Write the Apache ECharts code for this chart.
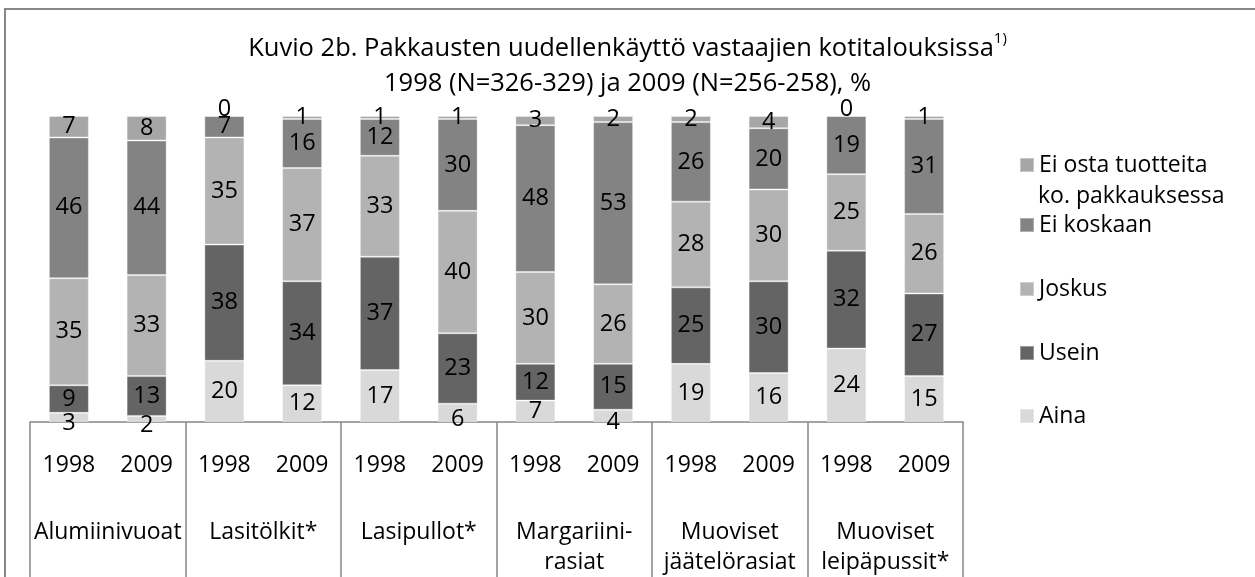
<!DOCTYPE html>
<html>
<head>
<meta charset="utf-8">
<script src="https://cdn.jsdelivr.net/npm/echarts@6/dist/echarts.min.js"></script>
<style>html,body{margin:0;padding:0;background:#fff;}#c{width:1255px;height:577px;}</style>
</head>
<body>
<div id="c"></div>
<script>
const categories = ['Alumiinivuoat', 'Lasitölkit*', 'Lasipullot*', 'Margariini-\nrasiat', 'Muoviset\njäätelörasiat', 'Muoviset\nleipäpussit*'];
const years = ['1998', '2009', '1998', '2009', '1998', '2009', '1998', '2009', '1998', '2009', '1998', '2009'];
const seriesNames = ['Aina', 'Usein', 'Joskus', 'Ei koskaan', 'Ei osta tuotteita ko. pakkauksessa'];
const aina      = [3, 2, 20, 12, 17, 6, 7, 4, 19, 16, 24, 15];
const usein     = [9, 13, 38, 34, 37, 23, 12, 15, 25, 30, 32, 27];
const joskus    = [35, 33, 35, 37, 33, 40, 30, 26, 28, 30, 25, 26];
const eiKoskaan = [46, 44, 7, 16, 12, 30, 48, 53, 26, 20, 19, 31];
const eiOsta    = [7, 8, 0, 1, 1, 1, 3, 2, 2, 4, 0, 1];

const values = [aina, usein, joskus, eiKoskaan, eiOsta];
const colors = ['#d9d9d9', '#646464', '#b3b3b3', '#838383', '#a6a6a6'];
const FONT = 'Open Sans';
const FS = 23;

const chart = echarts.init(document.getElementById('c'));

const series = seriesNames.map((n, i) => {
  const s = {
    name: n,
    type: 'bar',
    stack: 'total',
    barWidth: 40,
    data: values[i],
    itemStyle: { color: colors[i], borderColor: 'rgba(255,255,255,0.35)', borderWidth: 1 },
    label: { show: true, position: 'inside', color: '#000', fontFamily: FONT, fontSize: 23.5 },
    emphasis: { disabled: true }
  };
  if (i === 0) {
    s.labelLayout = function (p) { return values[0][p.dataIndex] < 7 ? { dy: 6 } : {}; };
  } else if (i === 4) {
    s.labelLayout = function (p) { return values[4][p.dataIndex] === 0 ? { dy: -7 } : {}; };
  }
  return s;
});

// legend positions (centre y of each item)
const legendCenters = [416, 353, 289, 225, 165];
const legends = seriesNames.map((n, i) => ({
  data: [n],
  left: 1019,
  top: legendCenters[i] - 15,
  padding: 0,
  icon: 'rect',
  itemWidth: 14,
  itemHeight: 14,
  selectedMode: false,
  formatter: i === 4 ? 'Ei osta tuotteita' : '{name}',
  textStyle: { fontFamily: FONT, fontSize: FS, color: '#000', lineHeight: 30 }
}));

chart.setOption({
  animation: false,
  backgroundColor: '#fff',
  title: {
    text: 'Kuvio 2b. Pakkausten uudellenkäyttö vastaajien kotitalouksissa{sup|1)}\n1998 (N=326-329) ja 2009 (N=256-258), %',
    left: 'center',
    top: 31,
    padding: 0,
    textStyle: {
      fontFamily: FONT, fontSize: 25.5, fontWeight: 'normal', color: '#000', lineHeight: 35,
      rich: { sup: { fontFamily: FONT, fontSize: 15, verticalAlign: 'top', padding: [0, 0, 12, 0], lineHeight: 35, color: '#000' } }
    }
  },
  legend: legends,
  grid: { left: 30, right: 292, top: 116, bottom: 144, containLabel: false },
  xAxis: [
    {
      type: 'category',
      data: years,
      axisLine: { show: false },
      axisTick: { show: false },
      axisLabel: { interval: 0, margin: 28, fontFamily: FONT, fontSize: FS, color: '#000', lineHeight: 30 }
    },
    {
      type: 'category',
      data: categories,
      position: 'bottom',
      axisLine: { show: true, lineStyle: { color: '#868686', width: 1.5 } },
      axisTick: { show: true, interval: 0, length: 200, lineStyle: { color: '#868686', width: 1.5 } },
      axisLabel: { interval: 0, margin: 95, fontFamily: FONT, fontSize: FS, color: '#000', lineHeight: 30 }
    }
  ],
  yAxis: { type: 'value', min: 0, max: 100, show: false, splitLine: { show: false } },
  series: series,
  graphic: [
    { type: 'rect', shape: { x: 5, y: 9, width: 1400, height: 800 }, style: { fill: 'none', stroke: '#878787', lineWidth: 2 }, silent: true, z: 100 },
    { type: 'text', left: 1038, top: 196 - 15, style: { text: 'ko. pakkauksessa', fontFamily: FONT, fontSize: FS, fill: '#000', lineHeight: 30 }, silent: true }
  ]
});
</script>
</body>
</html>
